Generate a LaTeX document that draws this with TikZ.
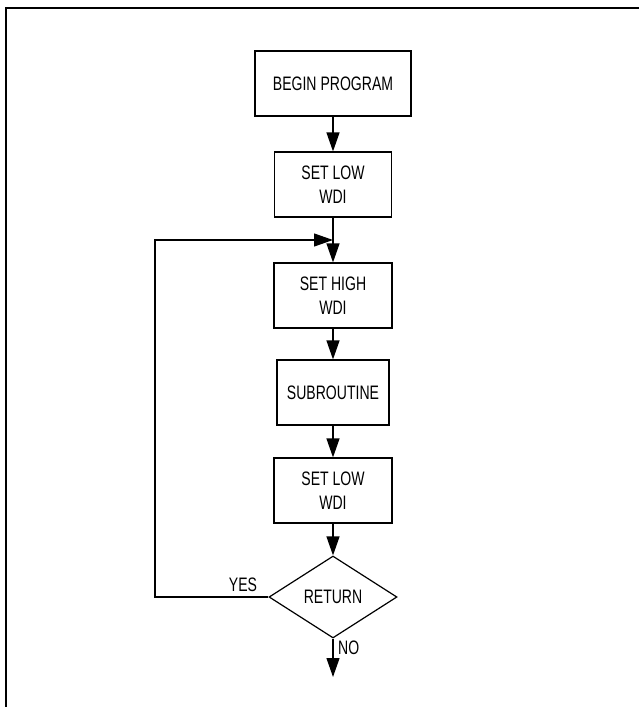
\documentclass[tikz,border=0pt]{standalone}
\usepackage{fontspec}
\setmainfont{Liberation Sans}[FakeStretch=0.72]
\usepackage{tikz}
\usetikzlibrary{arrows.meta}
\usetikzlibrary{shapes.geometric}
\newcommand{\flowfont}{\fontsize{19.5}{24.3}\selectfont}
\tikzset{>={Triangle[length=19pt, width=13pt]}}
\tikzstyle{block} = [rectangle, draw=black, line width=1.2pt, minimum height=65pt, inner sep=0pt, align=center, font=\flowfont]
\tikzstyle{decision} = [diamond, draw=black, line width=1.2pt, minimum width=128pt, minimum height=82pt, inner sep=0pt, font=\flowfont]
\tikzstyle{flow} = [->, draw=black, line width=1.2pt]
\begin{document}
\begin{tikzpicture}[x=1pt, y=-1pt]
\useasboundingbox (0,0) rectangle (639,707);
\draw [line width=2pt] (6,707) -- (6,8) -- (639,8);
\node [block, minimum width=156pt] (begin) at (333, 83.5) {BEGIN PROGRAM};
\node [block, minimum width=117pt] (low1) at (333, 184.5) {SET LOW\\WDI};
\node [block, minimum width=118pt] (high) at (333, 295.5) {SET HIGH\\WDI};
\node [block, minimum width=112pt] (sub) at (333, 392.5) {SUBROUTINE};
\node [block, minimum width=118pt] (low2) at (333, 490.5) {SET LOW\\WDI};
\node [decision] (ret) at (333, 597) {RETURN};
\coordinate (join) at (333, 240);
\coordinate (yesbend) at (155, 597);
\coordinate (exit) at (333, 677);
\draw [flow] (begin) -- (low1);
\draw [flow] (low1) -- (high);
\draw [flow] (high) -- (sub);
\draw [flow] (sub) -- (low2);
\draw [flow] (low2) -- (ret);
\draw [flow] (ret.west) -- (yesbend) |- (join);
\draw [flow] (ret.south) -- (exit);
\node [font=\flowfont, inner sep=0pt] (yes) at (243, 585) {YES};
\node [font=\flowfont, inner sep=0pt, anchor=west] (no) at (338, 648) {NO};
\end{tikzpicture}
\end{document}
